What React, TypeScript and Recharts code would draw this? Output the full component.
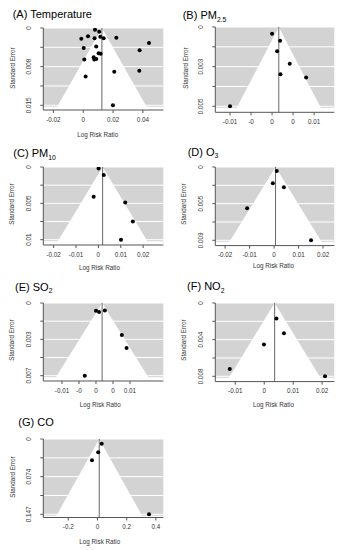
import React from 'react'
import {
  ComposedChart,
  Area,
  Scatter,
  XAxis,
  YAxis,
  CartesianGrid,
  ReferenceLine,
} from 'recharts'

// (A) Temperature
const tempLogRR = [0.0079, 0.0107, 0.0032, -0.0013, 0.0076, 0.0114, 0.0137, 0.0222, 0.0441, 0.0003, 0.0087, 0.0378, 0.0103, 0.0117, 0.0007, 0.007, 0.0074, 0.0087, 0.0208, 0.0376, 0.0016, 0.0199]
const tempSE = [0.00033, 0.00071, 0.0016, 0.0021, 0.002, 0.0017, 0.002, 0.0019, 0.0029, 0.0039, 0.0036, 0.0043, 0.0049, 0.005, 0.0061, 0.0057, 0.0061, 0.006, 0.0085, 0.0083, 0.0094, 0.015]
const tempPooled = 0.0125
const tempXRange = [-0.0268, 0.0537]
const tempXTicks = [-0.02, 0, 0.02, 0.04]
const tempXLabels = ['-0.02', '0', '0.02', '0.04']
const tempYTicks = [0, 0.00375, 0.0075, 0.01125, 0.015]
const tempYLabels = ['0', '', '0.008', '', '0.015']

// (B) PM2.5
const pm25LogRR = [0.0, 0.0019, 0.0012, 0.0042, 0.002, 0.0081, -0.01]
const pm25SE = [0.00042, 0.00086, 0.00153, 0.00231, 0.00298, 0.00319, 0.005]
const pm25Pooled = 0.0016
const pm25XRange = [-0.0135, 0.0148]
const pm25XTicks = [-0.01, -0.005, 0, 0.005, 0.01]
const pm25XLabels = ['-0.01', '-0', '0', '0', '0.01']
const pm25YTicks = [0, 0.00125, 0.0025, 0.00375, 0.005]
const pm25YLabels = ['0', '', '0.003', '', '0.005']

// (C) PM10
const pm10LogRR = [0.0001, 0.0024, -0.0021, 0.012, 0.0154, 0.0101]
const pm10SE = [0.0002, 0.0011, 0.0041, 0.0049, 0.0075, 0.01]
const pm10Pooled = 0.0019
const pm10XRange = [-0.0246, 0.029]
const pm10XTicks = [-0.02, -0.01, 0, 0.01, 0.02]
const pm10XLabels = ['-0.02', '-0.01', '0', '0.01', '0.02']
const pm10YTicks = [0, 0.0025, 0.005, 0.0075, 0.01]
const pm10YLabels = ['0', '', '0.005', '', '0.01']

// (D) O3
const o3LogRR = [0.0011, -0.0005, 0.004, -0.011, 0.0151]
const o3SE = [0.00051, 0.0021, 0.0026, 0.0053, 0.0094]
const o3Pooled = 0.0006
const o3XRange = [-0.024, 0.0246]
const o3XTicks = [-0.02, -0.01, 0, 0.01, 0.02]
const o3XLabels = ['-0.02', '-0.01', '0', '0.01', '0.02']
const o3YTicks = [0, 0.00235, 0.0047, 0.00705, 0.0094]
const o3YLabels = ['0', '', '0.005', '', '0.009']

// (E) SO2
const so2LogRR = [0.0, 0.0009, 0.0026, 0.0076, 0.009, -0.0033]
const so2SE = [0.00072, 0.00084, 0.00069, 0.003, 0.0042, 0.0068]
const so2Pooled = 0.0018
const so2XRange = [-0.0155, 0.0198]
const so2XTicks = [-0.01, -0.005, 0, 0.005, 0.01]
const so2XLabels = ['-0.01', '-0', '0', '0', '0.01']
const so2YTicks = [0, 0.0017, 0.0034, 0.0051, 0.0068]
const so2YLabels = ['0', '', '0.003', '', '0.007']

// (F) NO2
const no2LogRR = [0.0042, 0.0068, -0.0001, -0.0119, 0.021]
const no2SE = [0.00168, 0.00327, 0.00448, 0.00711, 0.0079]
const no2Pooled = 0.0036
const no2XRange = [-0.0169, 0.0242]
const no2XTicks = [-0.01, 0, 0.01, 0.02]
const no2XLabels = ['-0.01', '0', '0.01', '0.02']
const no2YTicks = [0, 0.001975, 0.00395, 0.005925, 0.0079]
const no2YLabels = ['0', '', '0.004', '', '0.008']

// (G) CO
const coLogRR = [0.029, 0.005, -0.038, 0.353]
const coSE = [0.0092, 0.026, 0.0416, 0.147]
const coPooled = 0.012
const coXRange = [-0.371, 0.4507]
const coXTicks = [-0.2, 0, 0.2, 0.4]
const coXLabels = ['-0.2', '0', '0.2', '0.4']
const coYTicks = [0, 0.03675, 0.0735, 0.11025, 0.147]
const coYLabels = ['0', '', '0.074', '', '0.147']

const panels = [
  { id: 'A', name: 'Temperature', sub: '', x: tempLogRR, se: tempSE, pooled: tempPooled, xRange: tempXRange, xTicks: tempXTicks, xLabels: tempXLabels, yTicks: tempYTicks, yLabels: tempYLabels,
    box: { col: 0, left: 43.3, right: 163.3, top: 28, maxY: 105.3, axisY: 110 }, title: [12.7, 14], seText: [13.3, 68], rrText: [97.7, 135] },
  { id: 'B', name: 'PM', sub: '2.5', x: pm25LogRR, se: pm25SE, pooled: pm25Pooled, xRange: pm25XRange, xTicks: pm25XTicks, xLabels: pm25XLabels, yTicks: pm25YTicks, yLabels: pm25YLabels,
    box: { col: 171, left: 215.3, right: 334.3, top: 26.7, maxY: 106, axisY: 112 }, title: [182.7, 15], seText: [186, 68], rrText: null },
  { id: 'C', name: 'PM', sub: '10', x: pm10LogRR, se: pm10SE, pooled: pm10Pooled, xRange: pm10XRange, xTicks: pm10XTicks, xLabels: pm10XLabels, yTicks: pm10YTicks, yLabels: pm10YLabels,
    box: { col: 0, left: 43.3, right: 163.3, top: 167.3, maxY: 240, axisY: 245.3 }, title: [13.3, 153.3], seText: [11.7, 204], rrText: [99.5, 267.7] },
  { id: 'D', name: 'O', sub: '3', x: o3LogRR, se: o3SE, pooled: o3Pooled, xRange: o3XRange, xTicks: o3XTicks, xLabels: o3XLabels, yTicks: o3YTicks, yLabels: o3YLabels,
    box: { col: 171, left: 215.3, right: 334.3, top: 166.7, maxY: 240, axisY: 245.3 }, title: [187.7, 151.7], seText: [184.3, 204], rrText: [273.5, 266] },
  { id: 'E', name: 'SO', sub: '2', x: so2LogRR, se: so2SE, pooled: so2Pooled, xRange: so2XRange, xTicks: so2XTicks, xLabels: so2XLabels, yTicks: so2YTicks, yLabels: so2YLabels,
    box: { col: 0, left: 43.3, right: 163.3, top: 303.3, maxY: 376, axisY: 381.3 }, title: [15, 286.7], seText: [12, 340], rrText: [100.3, 405] },
  { id: 'F', name: 'NO', sub: '2', x: no2LogRR, se: no2SE, pooled: no2Pooled, xRange: no2XRange, xTicks: no2XTicks, xLabels: no2XLabels, yTicks: no2YTicks, yLabels: no2YLabels,
    box: { col: 171, left: 215.3, right: 334.3, top: 302.7, maxY: 376, axisY: 381.3 }, title: [187, 286], seText: [184, 340], rrText: [273.5, 405] },
  { id: 'G', name: 'CO', sub: '', x: coLogRR, se: coSE, pooled: coPooled, xRange: coXRange, xTicks: coXTicks, xLabels: coXLabels, yTicks: coYTicks, yLabels: coYLabels,
    box: { col: 0, left: 43.3, right: 163.3, top: 439, maxY: 514.3, axisY: 517.5 }, title: [18.3, 421.7], seText: [13.3, 477], rrText: [99.8, 541.7] },
]

const FONT = '"Liberation Sans", Arial, Helvetica, sans-serif'

function YTick(props: any) {
  const { x, y, index, labels } = props
  const s = labels[index]
  if (!s) return <g />
  return (
    <text x={x} y={y} transform={`rotate(-90 ${x} ${y})`} textAnchor="middle" fontSize={6.3} fill="#333">
      {s}
    </text>
  )
}

function Dot(props: any) {
  return <circle cx={props.cx} cy={props.cy} r={2} fill="#000" />
}

function FunnelPanel({ p }: { p: (typeof panels)[number] }) {
  const b = p.box
  const yMax = p.yTicks[p.yTicks.length - 1]
  const span = b.maxY - b.top
  const greyEnd = (yMax * (span + 1.5)) / span
  const yDom = (yMax * (b.axisY - b.top)) / span
  const half = 1.96 * greyEnd

  // white region: pseudo-confidence funnel plus the strip below the grey panel
  const funnel = [
    { x: p.xRange[0], band: [greyEnd, yDom] },
    { x: p.pooled - half, band: [greyEnd, yDom] },
    { x: p.pooled, band: [0, yDom] },
    { x: p.pooled + half, band: [greyEnd, yDom] },
    { x: p.xRange[1], band: [greyEnd, yDom] },
  ]
  const points = p.x.map((v, i) => ({ x: v, se: p.se[i] }))

  const yAxisW = 20
  const xAxisH = 16
  return (
    <div style={{ position: 'absolute', left: b.col, top: b.top - 2 }}>
      <ComposedChart
        width={171}
        height={b.axisY - b.top + 2 + xAxisH}
        data={funnel}
        margin={{ top: 2, right: b.col + 171 - b.right, left: b.left - b.col - yAxisW, bottom: 0 }}
      >
        <CartesianGrid vertical={false} horizontal={false} fill="#d3d3d3" fillOpacity={1} />
        <XAxis
          dataKey="x"
          type="number"
          domain={p.xRange}
          ticks={p.xTicks}
          interval={0}
          allowDataOverflow
          tickFormatter={(_v: number, i: number) => p.xLabels[i]}
          height={xAxisH}
          tickSize={3}
          tickMargin={4.2}
          stroke="#555"
          tick={{ fontSize: 6.3, fill: '#333' }}
        />
        <YAxis
          type="number"
          domain={[0, yDom]}
          reversed
          ticks={p.yTicks}
          interval={0}
          allowDataOverflow
          width={yAxisW}
          tickSize={3}
          tickMargin={9}
          stroke="#555"
          tick={(tp: any) => <YTick {...tp} labels={p.yLabels} />}
        />
        <Area type="linear" dataKey="band" fill="#fff" fillOpacity={1} stroke="none" isAnimationActive={false} />
        {p.yTicks.map((t) => (
          <ReferenceLine key={t} y={t} stroke="#fff" strokeWidth={1} />
        ))}
        <ReferenceLine x={p.pooled} stroke="#666" strokeWidth={1} />
        <Scatter data={points} dataKey="se" shape={Dot} isAnimationActive={false} />
      </ComposedChart>
    </div>
  )
}

export default function App() {
  return (
    <div style={{ position: 'absolute', left: 0, top: 0, width: 342, height: 550, background: '#fff', fontFamily: FONT, overflow: 'hidden' }}>
      {panels.map((p) => (
        <FunnelPanel key={p.id} p={p} />
      ))}
      {panels.map((p) => (
        <React.Fragment key={'t' + p.id}>
          <div style={{ position: 'absolute', left: p.title[0], top: p.title[1], transform: 'translateY(-50%)', fontSize: 11, lineHeight: 1, whiteSpace: 'nowrap', color: '#000' }}>
            ({p.id}) {p.name}
            {p.sub && <span style={{ fontSize: 6.8, position: 'relative', top: 2.5 }}>{p.sub}</span>}
          </div>
          <div style={{ position: 'absolute', left: p.seText[0], top: p.seText[1], transform: 'translate(-50%, -50%) rotate(-90deg)', fontSize: 6.3, lineHeight: 1, whiteSpace: 'nowrap', color: '#333' }}>
            Standard Error
          </div>
          {p.rrText && (
            <div style={{ position: 'absolute', left: p.rrText[0], top: p.rrText[1], transform: 'translate(-50%, -50%)', fontSize: 6.3, lineHeight: 1, whiteSpace: 'nowrap', color: '#333' }}>
              Log Risk Ratio
            </div>
          )}
        </React.Fragment>
      ))}
    </div>
  )
}
